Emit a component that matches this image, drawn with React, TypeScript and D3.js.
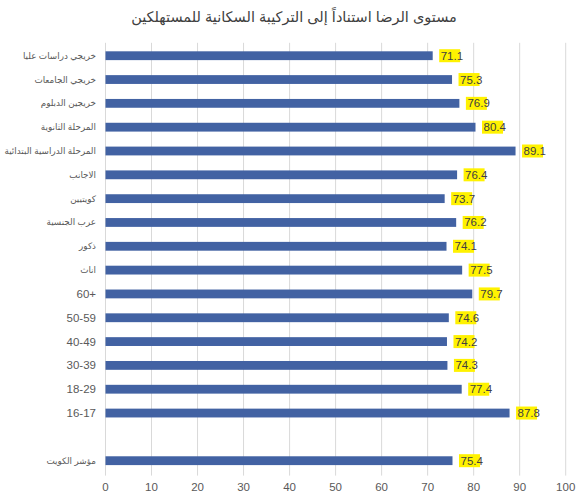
import React from "react";
import * as d3 from "d3";

const categories = [
  "خريجي دراسات عليا",
  "خريجي الجامعات",
  "خريجين الدبلوم",
  "المرحلة الثانوية",
  "المرحلة الدراسية البتدائية",
  "الاجانب",
  "كويتيين",
  "عرب الجنسية",
  "ذكور",
  "اناث",
  "60+",
  "50-59",
  "40-49",
  "30-39",
  "18-29",
  "16-17",
  "",
  "مؤشر الكويت",
];
const values: (number | null)[] = [
  71.1, 75.3, 76.9, 80.4, 89.1, 76.4, 73.7, 76.2, 74.1, 77.5, 79.7, 74.6, 74.2, 74.3, 77.4, 87.8, null, 75.4,
];
const xTicks = [0, 10, 20, 30, 40, 50, 60, 70, 80, 90, 100];
const title = "مستوى الرضا استناداً إلى التركيبة السكانية للمستهلكين";

const W = 585;
const H = 500;
const left = 105.5;
const right = 565.7;
const top = 43.8;
const bottom = 472.6;
const font = "'Liberation Sans', 'DejaVu Sans', sans-serif";
const isArabic = (s: string) => /[\u0600-\u06FF]/.test(s);

export default function App() {
  const x = d3.scaleLinear().domain([0, 100]).range([left, right]);
  const y = d3
    .scaleBand<string>()
    .domain(categories.map((c, i) => i + ""))
    .range([top, bottom])
    .paddingInner(0.63)
    .paddingOuter(0.315);
  const bw = y.bandwidth();
  return (
    <svg
      width={W}
      height={H}
      style={{ position: "absolute", left: 0, top: 0, background: "#fff" }}
      fontFamily={font}
    >
      <rect width={W} height={H} fill="#fff" />
      <text x={294} y={22} textAnchor="middle" fontSize={14.5} fill="#404040">
        {title}
      </text>
      {xTicks.map((t) => (
        <g key={t}>
          <line x1={x(t)} x2={x(t)} y1={top - 1} y2={bottom + 3} stroke="#d9d9d9" strokeWidth={1} />
          <text x={x(t)} y={491} textAnchor="middle" fontSize={11.5} fill="#595959">
            {t}
          </text>
        </g>
      ))}
      {categories.map((c, i) => {
        const v = values[i];
        const yc = (y(i + "") as number) + bw / 2;
        const ar = isArabic(c);
        return (
          <g key={i}>
            {c && (
              <text
                x={96}
                y={yc + (ar ? 3 : 4)}
                textAnchor="end"
                fontSize={ar ? 8.8 : 11.5}
                fill="#595959"
              >
                {ar ? c : "\u200E" + c + "\u200E"}
              </text>
            )}
            {v !== null && (
              <g>
                <rect x={x(0)} y={y(i + "")} width={x(v) - x(0)} height={bw} fill="#4262a3" />
                <rect x={x(v) + 6.5} y={yc - 6.5} width={21} height={13} fill="#fff200" />
                <text x={x(v) + 8} y={yc + 4} fontSize={11.5} fill="#404040">
                  {v.toFixed(1)}
                </text>
              </g>
            )}
          </g>
        );
      })}
    </svg>
  );
}
